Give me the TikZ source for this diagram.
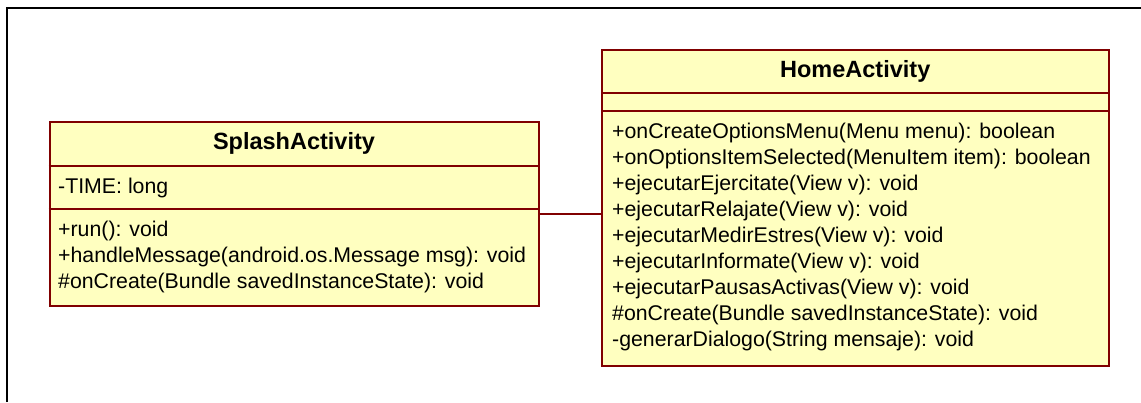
\documentclass[tikz,border=0pt]{standalone}
\usepackage{fontspec}
\setmainfont{Liberation Sans}
\definecolor{umlfill}{RGB}{255,255,192}
\definecolor{umlborder}{RGB}{128,0,0}
\begin{document}
\begin{tikzpicture}[x=1pt,y=1pt,
    classbox/.style={draw=umlborder, fill=umlfill, line width=2pt, inner sep=0pt, anchor=north west},
    classname/.style={font=\fontsize{23.5}{26}\selectfont\bfseries},
    members/.style={font=\fontsize{21.3}{26}\selectfont, align=left, anchor=west, inner sep=0pt},
    sep/.style={draw=umlborder, line width=2pt}]
    \useasboundingbox (0,0) rectangle (1141,402);
    \draw[line width=1.8pt] (7,0) -- (7,394) -- (1141,394);
    % SplashActivity
    \node[classbox, minimum width=489pt, minimum height=183.5pt] (splash) at (48.5,280.5) {};
    \draw[sep] ([yshift=-44.5pt]splash.north west) -- ([yshift=-44.5pt]splash.north east);
    \draw[sep] ([yshift=-88pt]splash.north west) -- ([yshift=-88pt]splash.north east);
    \node[classname] (splashname) at ([yshift=-22pt]splash.north) {SplashActivity};
    \node[members] (splashattr) at ([xshift=9.5pt,yshift=-66.5pt]splash.north west) {-TIME: long};
    \node[members] (splashops) at ([xshift=9.5pt,yshift=-135.5pt]splash.north west)
        {+run(): void\\+handleMessage(android.os.Message msg): void\\\#onCreate(Bundle savedInstanceState): void};
    % HomeActivity
    \node[classbox, minimum width=506.5pt, minimum height=315.5pt] (home) at (601,353) {};
    \draw[sep] ([yshift=-44pt]home.north west) -- ([yshift=-44pt]home.north east);
    \draw[sep] ([yshift=-62.5pt]home.north west) -- ([yshift=-62.5pt]home.north east);
    \node[classname] (homename) at ([yshift=-22pt]home.north) {HomeActivity};
    \node[members] (homeops) at ([xshift=11pt,yshift=-188pt]home.north west)
        {+onCreateOptionsMenu(Menu menu): boolean\\
         +onOptionsItemSelected(MenuItem item): boolean\\
         +ejecutarEjercitate(View v): void\\
         +ejecutarRelajate(View v): void\\
         +ejecutarMedirEstres(View v): void\\
         +ejecutarInformate(View v): void\\
         +ejecutarPausasActivas(View v): void\\
         \#onCreate(Bundle savedInstanceState): void\\
         -generarDialogo(String mensaje): void};
    % association
    \draw[sep] (splash.east) -- (splash.east -| home.west);
\end{tikzpicture}
\end{document}
